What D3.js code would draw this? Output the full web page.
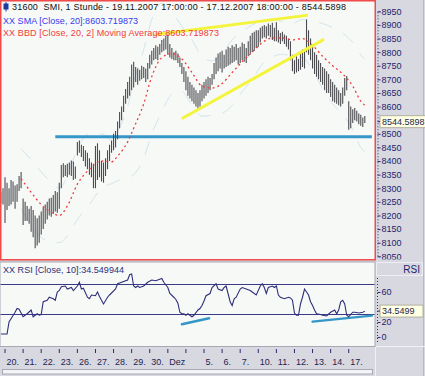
<!DOCTYPE html>
<html>
<head>
<meta charset="utf-8">
<script src="https://cdn.jsdelivr.net/npm/d3@7"></script>
<style>
    body { margin: 0; background: #d8d8e0; }
    svg { display: block; }
    text { font-family: "Liberation Sans", Arial, sans-serif; font-size: 9px; white-space: pre; }
</style>
</head>
<body>
<svg id="chart" width="425" height="376"></svg>
<script>
    // hourly bars, 19.11.2007 17:00 .. 17.12.2007 18:00 (9 bars per day)
    var barHigh = [
        8285, 8300,                                                 // 19.
        8340, 8320, 8300, 8330, 8325, 8310, 8315, 8345, 8360,       // 20.
        8262, 8250, 8235, 8225, 8235, 8220, 8200, 8190, 8200,       // 21.
        8215, 8230, 8240, 8250, 8262, 8265, 8275, 8290, 8285,       // 22.
        8320, 8385, 8392, 8385, 8390, 8395, 8402, 8398, 8380,       // 23.
        8470, 8475, 8460, 8455, 8440, 8430, 8410, 8395, 8390,       // 26.
        8455, 8465, 8440, 8400, 8395, 8410, 8440, 8460, 8475,       // 27.
        8500, 8510, 8545, 8580, 8600, 8640, 8665, 8690, 8710,       // 28.
        8755, 8765, 8745, 8740, 8735, 8750, 8745, 8740, 8760,       // 29.
        8790, 8805, 8815, 8825, 8820, 8830, 8845, 8850, 8860,       // 30.
        8870, 8830, 8815, 8800, 8805, 8795, 8780, 8760, 8745,       // 3.
        8730, 8710, 8690, 8680, 8670, 8660, 8650, 8660, 8680,       // 4.
        8690, 8700, 8710, 8705, 8720, 8760, 8780, 8795, 8800,       // 5.
        8805, 8790, 8810, 8820, 8815, 8825, 8820, 8830, 8815,       // 6.
        8820, 8835, 8830, 8815, 8840, 8860, 8870, 8875, 8880,       // 7.
        8880, 8890, 8895, 8900, 8895, 8905, 8900, 8908, 8890,       // 10.
        8910, 8880, 8870, 8875, 8865, 8860, 8850, 8840, 8790,       // 11.
        8770, 8785, 8775, 8800, 8810, 8805, 8920, 8880, 8850,       // 12.
        8820, 8800, 8790, 8770, 8760, 8745, 8740, 8730, 8720,       // 13.
        8700, 8690, 8680, 8670, 8660, 8650, 8670, 8705, 8712,       // 14.
        8620, 8600, 8590, 8595, 8585, 8575, 8570, 8560, 8565        // 17.
    ];
    var barLow = [
        8245, 8240,
        8172, 8220, 8235, 8240, 8250, 8225, 8250, 8290, 8300,
        8165, 8180, 8180, 8170, 8140, 8120, 8080, 8090, 8100,
        8130, 8150, 8170, 8185, 8200, 8195, 8205, 8215, 8210,
        8225, 8300, 8340, 8345, 8340, 8350, 8345, 8330, 8335,
        8420, 8430, 8415, 8400, 8380, 8370, 8350, 8340, 8300,
        8300, 8330, 8340, 8325, 8320, 8345, 8370, 8400, 8430,
        8440, 8450, 8480, 8520, 8550, 8580, 8610, 8630, 8640,
        8660, 8670, 8690, 8680, 8695, 8700, 8705, 8690, 8700,
        8740, 8755, 8770, 8775, 8770, 8790, 8800, 8805, 8810,
        8790, 8780, 8775, 8770, 8770, 8760, 8745, 8720, 8690,
        8660, 8640, 8630, 8620, 8610, 8600, 8588, 8600, 8620,
        8630, 8640, 8650, 8660, 8680, 8700, 8720, 8730, 8740,
        8725, 8740, 8745, 8750, 8755, 8760, 8765, 8770, 8755,
        8760, 8770, 8765, 8760, 8785, 8795, 8800, 8805, 8815,
        8820, 8835, 8850, 8855, 8850, 8860, 8855, 8845, 8840,
        8840, 8835, 8830, 8840, 8830, 8820, 8810, 8770, 8730,
        8720, 8725, 8730, 8735, 8745, 8740, 8800, 8790, 8770,
        8740, 8720, 8710, 8700, 8690, 8680, 8660, 8650, 8650,
        8635, 8620, 8615, 8610, 8605, 8600, 8610, 8640, 8660,
        8515, 8520, 8540, 8550, 8545, 8535, 8530, 8525, 8540
    ];

    // SMA 20 (read at some bars) and Bollinger half width
    var smaIdx = [10, 15, 20, 25, 29, 33, 38, 44, 50, 55, 58, 63, 66, 71, 75, 80, 85, 90, 95, 100,
        105, 110, 115, 120, 125, 130, 135, 140, 145, 150, 155, 160, 165, 170, 175, 179, 181];
    var smaVal = [8335, 8285, 8240, 8212, 8200, 8235, 8315, 8370, 8400, 8397, 8418, 8470, 8520, 8610, 8710, 8780, 8795, 8775, 8725, 8675,
        8668, 8685, 8725, 8765, 8800, 8835, 8852, 8852, 8845, 8850, 8825, 8785, 8750, 8720, 8675, 8620, 8604];
    var bbWidth = [110, 120, 120, 110, 100, 110, 130, 130, 100, 80, 90, 130, 170, 200, 210, 200, 150, 120, 120, 110,
        100, 110, 120, 110, 100, 80, 70, 60, 60, 70, 90, 120, 140, 150, 160, 170, 170];

    // RSI 10
    var rsiIdx = [0, 3, 4, 7, 8, 9, 11, 13, 15, 16, 18, 19, 20, 21, 23, 24, 26, 27, 28, 29,
        30, 32, 33, 35, 36, 38, 39, 40, 41, 43, 44, 45, 47, 48, 49, 50, 51, 53, 54, 57,
        58, 60, 63, 64, 65, 66, 67, 68, 69, 71, 73, 75, 77, 79, 80, 81, 83, 84, 86, 87,
        88, 89, 90, 91, 92, 93, 95, 96, 98, 99, 100, 101, 102, 104, 105, 107, 108, 110, 111, 112,
        114, 115, 116, 117, 119, 120, 122, 124, 125, 127, 129, 130, 131, 132, 133, 135, 136, 137, 138, 139,
        141, 143, 144, 145, 146, 147, 148, 149, 150, 151, 152, 153, 154, 155, 156, 157, 159, 160, 162, 164,
        166, 167, 168, 169, 170, 171, 172, 173, 175, 176, 178, 180, 181];
    var rsiVal = [4, 4, 20, 33, 38, 37, 27, 31, 36, 27, 31, 29, 30, 47, 49, 53, 51, 49, 60, 62,
        67, 68, 64, 66, 62, 68, 73, 64, 65, 53, 51, 56, 55, 60, 54, 49, 44, 53, 56, 64,
        71, 73, 76, 83, 84, 68, 66, 68, 66, 68, 73, 76, 75, 77, 78, 73, 66, 58, 53, 50,
        45, 33, 31, 31, 29, 31, 27, 29, 36, 38, 42, 48, 55, 58, 66, 71, 64, 62, 66, 68,
        47, 42, 51, 53, 64, 66, 64, 62, 60, 56, 68, 71, 66, 58, 66, 68, 66, 68, 56, 53,
        51, 53, 52, 49, 32, 29, 29, 44, 53, 64, 60, 56, 47, 42, 36, 31, 30, 29, 28, 33,
        36, 31, 36, 47, 49, 44, 29, 27, 33, 33, 32, 33, 34.5];

    var dayLabels = ["20.", "21.", "22.", "23.", "26.", "27.", "28.", "29.", "30.", "Dez",
        "", "5.", "6.", "7.", "10.", "11.", "12.", "13.", "14.", "17."];
    // 8550 and 40 sit under the value boxes
    var priceTicks = [8050, 8100, 8150, 8200, 8250, 8300, 8350, 8400, 8450, 8500,
        8600, 8650, 8700, 8750, 8800, 8850, 8900, 8950];
    var rsiTicks = [0, 20, 60];
    var rsiLevels = [30, 70];

    // drawn lines: [bar, value]
    var trendTop = [[77, 8865], [152, 8935]];
    var trendBottom = [[90.5, 8558], [160.2, 8845]];
    var support = [[27, 8489], [184.5, 8489]];
    var rsiTrendA = [[90, 17], [103.5, 25]];
    var rsiTrendB = [[155, 20.5], [184.5, 28.5]];

    var lastPrice = 8544.5898, lastRsi = 34.549944, lastSma = 8603.719873;

    var svg = d3.select('#chart');
    var W = 425, H = 376;

    var x = d3.scaleLinear().domain([0, barHigh.length - 1]).range([1, 1 + (barHigh.length - 1) * 2.01]);
    var y = d3.scaleLinear().domain([8050, 8950]).range([256.3, 11.3]);
    var yr = d3.scaleLinear().domain([0, 100]).range([337, 262]);

    svg.append('rect').attr('width', W).attr('height', H).attr('fill', '#d8d8e0');

    // panels
    svg.append('rect').attr('x', 0).attr('y', 262).attr('width', 375).attr('height', 84.5)
        .attr('fill', '#f7f9f7').attr('stroke', '#a8a8b4');
    svg.append('rect').attr('x', 0.75).attr('y', 0.75).attr('width', 374.5).attr('height', 259)
        .attr('fill', '#f7f9f7').attr('stroke', '#f04a4a').attr('stroke-width', 1.5);

    svg.append('clipPath').attr('id', 'clipP').append('rect')
        .attr('x', 1.5).attr('y', 1.5).attr('width', 373).attr('height', 257.5);
    svg.append('clipPath').attr('id', 'clipR').append('rect')
        .attr('x', 0.5).attr('y', 262.5).attr('width', 374).attr('height', 83.5);

    var gp = svg.append('g').attr('clip-path', 'url(#clipP)');
    var gr = svg.append('g').attr('clip-path', 'url(#clipR)');

    // bollinger bands (faint, broken)
    var band = d3.line().x(function(d) { return x(d[0]); }).y(function(d) { return y(d[1]); })
        .curve(d3.curveMonotoneX);
    var upper = smaIdx.map(function(d, i) { return [d, smaVal[i] + bbWidth[i]]; });
    var lower = smaIdx.map(function(d, i) { return [d, smaVal[i] - bbWidth[i]]; });
    [upper, lower].forEach(function(b) {
        gp.append('path').attr('d', band(b)).attr('fill', 'none')
            .attr('stroke', '#d2e4ec').attr('stroke-width', 1)
            .attr('stroke-dasharray', '14,12');
    });

    // support line
    var seg = d3.line().x(function(d) { return x(d[0]); }).y(function(d) { return y(d[1]); });
    gp.append('path').attr('d', seg(support)).attr('stroke', '#3596c8').attr('stroke-width', 3).attr('fill', 'none');

    // price bars
    gp.append('g').selectAll('line').data(barHigh).enter().append('line')
        .attr('x1', function(d, i) { return x(i); })
        .attr('x2', function(d, i) { return x(i); })
        .attr('y1', function(d) { return y(d); })
        .attr('y2', function(d, i) { return y(barLow[i]); })
        .attr('stroke', '#4c4c50').attr('stroke-width', 1.1);

    // SMA
    gp.append('path').attr('d', band(smaIdx.map(function(d, i) { return [d, smaVal[i]]; })))
        .attr('fill', 'none').attr('stroke', '#f03a3a').attr('stroke-width', 1.3)
        .attr('stroke-dasharray', '2,3');

    // trend lines
    [trendTop, trendBottom].forEach(function(t) {
        gp.append('path').attr('d', seg(t)).attr('stroke', '#f4f43c').attr('stroke-width', 3)
            .attr('stroke-linecap', 'round').attr('fill', 'none');
    });

    // RSI
    rsiLevels.forEach(function(l) {
        gr.append('line').attr('x1', 0).attr('x2', 375).attr('y1', yr(l)).attr('y2', yr(l))
            .attr('stroke', '#3a3a86').attr('stroke-width', 1);
    });
    var rline = d3.line().x(function(d) { return x(d[0]); }).y(function(d) { return yr(d[1]); });
    [rsiTrendA, rsiTrendB].forEach(function(t) {
        gr.append('path').attr('d', rline(t)).attr('stroke', '#3596c8').attr('stroke-width', 2.5)
            .attr('stroke-linecap', 'round').attr('fill', 'none');
    });
    gr.append('path').attr('d', rline(rsiIdx.map(function(d, i) { return [d, rsiVal[i]]; })))
        .attr('fill', 'none').attr('stroke', '#2e2e7a').attr('stroke-width', 1.1);

    // header texts
    svg.append('rect').attr('x', 3.5).attr('y', 3.5).attr('width', 5).attr('height', 6).attr('fill', '#1b3aa0');
    svg.append('line').attr('x1', 6).attr('x2', 6).attr('y1', 2).attr('y2', 11.5).attr('stroke', '#1b3aa0');
    svg.append('text').attr('x', 12).attr('y', 10).attr('fill', '#111')
        .attr('textLength', 334)
        .text('31600  SMI, 1 Stunde - 19.11.2007 17:00:00 - 17.12.2007 18:00:00 - ' + lastPrice.toFixed(4));
    svg.append('text').attr('x', 3).attr('y', 23.5).attr('fill', '#3a3af0').attr('textLength', 135)
        .text('XX SMA [Close, 20]:' + lastSma.toFixed(6));
    svg.append('text').attr('x', 3).attr('y', 35.5).attr('fill', '#f03a3a').attr('textLength', 216)
        .text('XX BBD [Close, 20, 2] Moving Average:' + lastSma.toFixed(6));
    svg.append('text').attr('x', 3).attr('y', 273).attr('fill', '#2e2e7a').attr('textLength', 121)
        .text('XX RSI [Close, 10]:' + lastRsi.toFixed(6));

    // right price axis
    svg.append('clipPath').attr('id', 'clipA').append('rect')
        .attr('x', 375).attr('y', 0).attr('width', 50).attr('height', 259.5);
    var ay = svg.append('g').attr('clip-path', 'url(#clipA)').append('g')
        .attr('transform', 'translate(377.5,0)')
        .call(d3.axisRight(y).tickValues(priceTicks).tickSize(3).tickPadding(1).tickFormat(d3.format('d')));
    ay.select('.domain').attr('stroke', '#2a2a70').attr('stroke-dasharray', '1,2');
    ay.selectAll('.tick line').attr('stroke', '#2a2a70');
    ay.selectAll('.tick text').attr('fill', '#1e1e6e').style('font-size', '9px')
        .style('font-family', '"Liberation Sans", Arial, sans-serif');
    svg.append('line').attr('x1', 423.5).attr('x2', 423.5).attr('y1', 0).attr('y2', H).attr('stroke', '#b8b8c4');

    // value box price
    var pb = svg.append('g').attr('transform', 'translate(380,' + y(lastPrice) + ')');
    pb.append('rect').attr('x', 0).attr('y', -6).attr('width', 46).attr('height', 12)
        .attr('fill', '#ffffe4').attr('stroke', '#b0b0a0');
    pb.append('text').attr('x', 2).attr('y', 3.3).attr('fill', '#1e1e50').text(lastPrice.toFixed(4));
    svg.append('line').attr('x1', 377.5).attr('x2', 380).attr('y1', y(lastPrice)).attr('y2', y(lastPrice)).attr('stroke', '#2a2a70');

    // RSI axis
    svg.append('rect').attr('x', 376.5).attr('y', 262.5).attr('width', 46).attr('height', 13)
        .attr('fill', '#d8d8e0').attr('stroke', '#eeeef4');
    svg.append('text').attr('x', 420).attr('y', 272.5).attr('text-anchor', 'end').attr('fill', '#1e1e6e')
        .style('font-size', '10px').text('RSI');
    var ar = svg.append('g').attr('transform', 'translate(377.5,0)')
        .call(d3.axisRight(yr).tickValues(rsiTicks).tickSize(3).tickPadding(1));
    ar.select('.domain').attr('d', 'M0,278V344').attr('stroke', '#2a2a70').attr('stroke-dasharray', '1,2');
    ar.selectAll('.tick line').attr('stroke', '#2a2a70');
    ar.selectAll('.tick text').attr('fill', '#1e1e6e').style('font-size', '9px')
        .style('font-family', '"Liberation Sans", Arial, sans-serif');
    var rb = svg.append('g').attr('transform', 'translate(380,' + yr(lastRsi) + ')');
    rb.append('rect').attr('x', 0).attr('y', -6).attr('width', 43).attr('height', 12)
        .attr('fill', '#ffffe4').attr('stroke', '#b0b0a0');
    rb.append('text').attr('x', 2).attr('y', 3.3).attr('fill', '#1e1e50').text(lastRsi.toFixed(4));
    svg.append('line').attr('x1', 377.5).attr('x2', 380).attr('y1', yr(lastRsi)).attr('y2', yr(lastRsi)).attr('stroke', '#2a2a70');

    // bottom time axis
    var gx = svg.append('g');
    dayLabels.forEach(function(lab, k) {
        var xi = x(2 + 9 * k);
        gx.append('line').attr('x1', xi).attr('x2', xi).attr('y1', 349).attr('y2', 353)
            .attr('stroke', '#2a2a70');
        gx.append('text').attr('x', xi + 1.5).attr('y', 364.5).attr('fill', '#1e1e50').text(lab);
    });
    svg.append('line').attr('x1', 375.5).attr('x2', 375.5).attr('y1', 347).attr('y2', H).attr('stroke', '#f0f0f6');
    svg.append('line').attr('x1', 376).attr('x2', 425).attr('y1', 346.5).attr('y2', 346.5).attr('stroke', '#f0f0f6');

    // scrollbar
    svg.append('rect').attr('x', 2.5).attr('y', 369.5).attr('width', 370).attr('height', 4.5)
        .attr('fill', '#f4f4f6').attr('stroke', '#a8a8b4');
</script>
</body>
</html>
